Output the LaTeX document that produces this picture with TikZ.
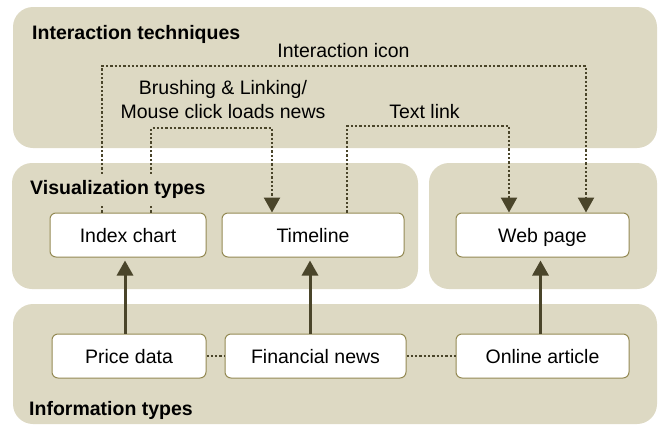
\documentclass[tikz,border=0pt]{standalone}
\usepackage{fontspec}
\setmainfont{Liberation Sans}
\usetikzlibrary{arrows.meta,calc}
\definecolor{panel}{HTML}{DDD9C3}
\definecolor{nodeline}{HTML}{948A54}
\definecolor{dark}{HTML}{4A452A}
\begin{document}
\begin{tikzpicture}[x=1pt,y=-1pt,
 panelbox/.style={fill=panel,draw=none,rounded corners=20pt},
 box/.style={draw=nodeline,line width=1pt,fill=white,rounded corners=6pt,minimum height=44pt,inner sep=0pt,text height=14pt,text depth=0pt,font=\fontsize{19.5}{22}\selectfont},
 title/.style={anchor=base west,inner sep=0pt,font=\fontsize{19.5}{22}\selectfont\bfseries},
 lbl/.style={anchor=base,inner sep=0pt,font=\fontsize{19.5}{22}\selectfont},
 flow/.style={draw=dark,line width=3pt,-{Triangle[width=16pt,length=15pt]},shorten >=3pt},
 link/.style={draw=dark,line width=2.3pt,dash pattern=on 2.3pt off 2pt},
 linkarrow/.style={link,-{Triangle[width=16pt,length=15pt]}}
]
\useasboundingbox (0,0) rectangle (659,426);
% panels
\fill[panelbox] (13,7) rectangle (657,148);
\fill[panelbox] (12,163) rectangle (418,289);
\fill[panelbox] (429,163) rectangle (657,289);
\fill[panelbox] (13,304) rectangle (657,424);
% boxes
\node[box,minimum width=156pt] (index) at (128,235) {Index chart};
\node[box,minimum width=182pt] (timeline) at (313,235) {Timeline};
\node[box,minimum width=173pt] (web) at (542.5,235) {Web page};
\node[box,minimum width=154pt] (price) at (129,356) {Price data};
\node[box,minimum width=181pt] (fin) at (315.5,356) {Financial news};
\node[box,minimum width=173pt] (online) at (542.5,356) {Online article};
% solid arrows
\draw[flow] ([xshift=-4pt]price.north) -- ([xshift=-4pt]price.north |- index.south);
\draw[flow] ([xshift=-5.5pt]fin.north) -- ([xshift=-5.5pt]fin.north |- timeline.south);
\draw[flow] ([xshift=-2pt]online.north) -- ([xshift=-2pt]online.north |- web.south);
% dotted links between info types
\draw[link] (price.east) -- (fin.west);
\draw[link] (fin.east) -- (online.west);
% interaction links
\coordinate (iconY) at (0,66);
\coordinate (brushY) at (0,128);
\coordinate (textY) at (0,126);
\draw[linkarrow] ([xshift=-26pt]index.north) -- ([xshift=-26pt]index.north |- iconY) -| ([xshift=43.5pt]web.north);
\draw[linkarrow] ([xshift=23pt]index.north) -- ([xshift=23pt]index.north |- brushY) -| ([xshift=-41pt]timeline.north);
\draw[linkarrow] ([xshift=34pt]timeline.north) -- ([xshift=34pt]timeline.north |- textY) -| ([xshift=-33.5pt]web.north);
% titles
\node[title] (t1) at (32,39) {Interaction techniques};
\node[title,fill=panel,text height=19pt,text depth=11pt] (t2) at (30,194) {Visualization types};
\node[title] (t3) at (29,415) {Information types};
% labels
\node[lbl] (l1) at (343.5,57) {Interaction icon};
\node[lbl] (l2) at (223,94) {Brushing \& Linking/};
\node[lbl] (l3) at (223,118) {Mouse click loads news};
\node[lbl] (l4) at (424.5,118) {Text link};
\end{tikzpicture}
\end{document}
